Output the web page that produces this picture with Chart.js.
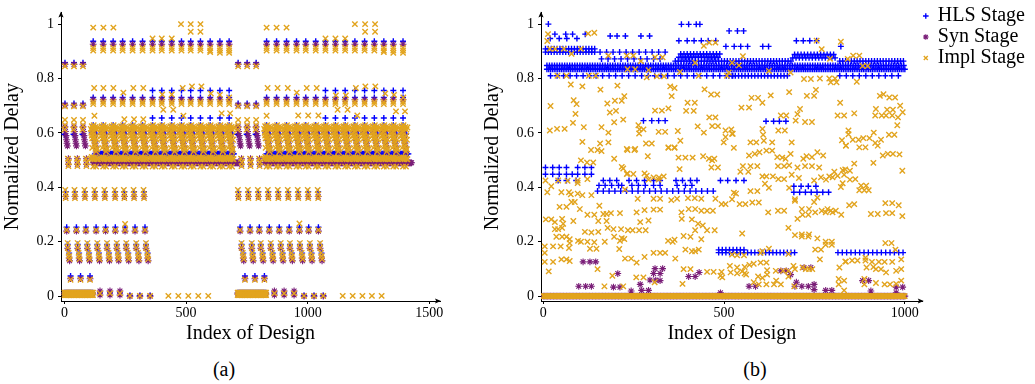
<!DOCTYPE html>
<html>
<head>
<meta charset="utf-8">
<script src="https://cdn.jsdelivr.net/npm/chart.js@4.4.0/dist/chart.umd.min.js"></script>
<style>
  body { margin: 0; background: #fff; }
  #wrap { position: relative; width: 1035px; height: 384px; }
  canvas { position: absolute; top: 0; }
  #ca { left: 0; }
  #cb { left: 480px; }
  .cap { position: absolute; top: 358px; line-height: 24px; font: 20px 'Liberation Serif', serif; color: #000; transform: translateX(-50%); }
</style>
</head>
<body>
<div id="wrap">
  <canvas id="ca" width="470" height="350"></canvas>
  <canvas id="cb" width="555" height="350"></canvas>
  <div class="cap" style="left:224px">(a)</div>
  <div class="cap" style="left:755px">(b)</div>
</div>
<script>
// Normalized delay per design index, three flow stages

const seriesNames = ['HLS Stage', 'Syn Stage', 'Impl Stage'];
const yTicks = [0, 0.2, 0.4, 0.6, 0.8, 1];
const aXTicks = [0, 500, 1000, 1500];
const bXTicks = [0, 500, 1000];

// ---- panel (a): designs come in columns, each column repeats a pattern [dx, delay]
const aColsEarly = [2, 39, 76, 714, 751, 788];
const aColsMain = [118, 159, 200, 239, 280, 321, 362, 400, 441, 481, 519, 559, 599, 639, 677,
  831, 872, 913, 954, 992, 1033, 1073, 1114, 1154, 1194, 1234, 1274, 1313, 1352, 1392];
const aColsLate = [362, 400, 441, 481, 519, 559, 599, 639, 677, 1073, 1114, 1154, 1194, 1234, 1274, 1313, 1352, 1392];
const aCols38 = [5, 43, 84, 125, 166, 208, 246, 286, 327, 715, 756, 797, 838, 879, 920, 961, 1002, 1043];
const aCols25 = [9, 49, 88, 130, 169, 209, 249, 290, 331, 722, 763, 801, 842, 883, 924, 966, 1004, 1044];
const aCols18 = [13, 54, 94, 135, 175, 215, 254, 295, 335, 728, 770, 807, 848, 889, 927, 968, 1009, 1051];
const aCols14 = [19, 60, 101, 142, 183, 221, 262, 304, 342, 735, 774, 815, 856, 897, 935, 977, 1016, 1057];
const aCols06 = [25, 66, 105, 742, 783, 822];
const aColsZeroPair = [146, 187, 228, 863, 903, 944];
const aColsZero = [269, 310, 352, 985, 1026, 1064];
const aColsImplOnly = [427, 468, 509, 550, 591, 1144, 1185, 1225, 1264, 1304];

const aHlsSets = [
  [aColsEarly, [[0, 0.858], [0, 0.708], [-2, 0.595], [4, 0.59]]],
  [aColsMain, [[0, 0.937], [0, 0.73], [0, 0.628], [-6, 0.6], [0, 0.6], [6, 0.6], [12, 0.595], [4, 0.572], [8, 0.562], [10, 0.55]]],
  [aColsLate, [[0, 0.756], [0, 0.655]]],
  [aCols38, [[0, 0.384]]],
  [aCols25, [[0, 0.253]]],
  [aCols18, [[0, 0.19]]],
  [aCols14, [[0, 0.158]]],
  [aCols06, [[0, 0.074]]],
  [aColsZeroPair, [[0, 0.012]]],
  [aColsZero, [[0, 0.002]]]
];
const aSynSets = [
  [aColsEarly, [[0, 0.852], [0, 0.702], [0, 0.622], [2, 0.605], [4, 0.59], [6, 0.575], [8, 0.562], [10, 0.552], [14, 0.505], [14, 0.485]]],
  [aColsMain, [[0, 0.926], [0, 0.722], [0, 0.62], [2, 0.605], [4, 0.59], [6, 0.575], [8, 0.56], [10, 0.545], [12, 0.53]]],
  [aCols38, [[0, 0.366]]],
  [aCols25, [[0, 0.239]]],
  [aCols18, [[0, 0.176]]],
  [aCols14, [[0, 0.14], [2, 0.13]]],
  [aCols06, [[0, 0.064]]],
  [aColsZeroPair, [[0, 0.019], [0, 0.004]]],
  [aColsZero, [[0, 0.0]]]
];
const aImplCloud = [
  [0, 0.912], [0, 0.903], [0, 0.714], [0, 0.706],
  [-10, 0.615], [-6, 0.625], [-2, 0.618], [2, 0.628], [6, 0.616], [10, 0.622], [14, 0.612], [18, 0.62],
  [-8, 0.6], [-6, 0.59], [-4, 0.58], [-2, 0.603], [0, 0.592], [2, 0.582], [4, 0.572], [6, 0.562],
  [8, 0.552], [10, 0.542], [12, 0.532], [14, 0.59], [16, 0.575], [-4, 0.545], [16, 0.54],
  [-10, 0.505], [-6, 0.512], [-2, 0.504], [2, 0.51], [6, 0.503], [10, 0.511], [14, 0.505], [18, 0.503],
  [0, 0.476], [12, 0.476]
];
const aImplSets = [
  [aColsEarly, [[0, 0.845], [0, 0.698], [0, 0.648], [0, 0.628], [-2, 0.612], [12, 0.505], [16, 0.492], [14, 0.478]]],
  [aColsMain, aImplCloud],
  [aCols38, [[0, 0.374], [0, 0.36], [-2, 0.39]]],
  [aCols25, [[0, 0.243]]],
  [aCols18, [[0, 0.195], [0, 0.178]]],
  [aCols14, [[-2, 0.159], [0, 0.147], [2, 0.136]]],
  [aCols06, [[0, 0.06]]],
  [aColsZeroPair, [[0, 0.01]]],
  [aColsZero, [[0, 0.001]]],
  [aColsImplOnly, [[0, 0.001]]]
];
// runs of consecutive designs at one delay: [from, to, every, delay]
const aHlsRuns = [[125, 700, 4, 0.523], [830, 1415, 4, 0.523], [0, 118, 4, 0.012], [712, 830, 4, 0.012]];
const aSynRuns = [[118, 715, 3, 0.49], [824, 1427, 3, 0.49], [0, 118, 4, 0.008], [712, 830, 4, 0.008]];
const aImplRuns = [[0, 118, 3, 0.013], [0, 118, 3, 0.004], [712, 830, 3, 0.013], [712, 830, 3, 0.004]];
const aImplPts = [
  [118, 0.987], [160, 0.987], [201, 0.987], [831, 0.987], [872, 0.987], [913, 0.987],
  [479, 1.0], [519, 1.0], [559, 1.0], [1194, 1.0], [1236, 1.0], [1277, 1.0],
  [519, 0.972], [559, 0.972], [1236, 0.972], [1277, 0.972],
  [362, 0.947], [400, 0.947], [441, 0.947], [1073, 0.947], [1114, 0.947], [1154, 0.947],
  [599, 0.897], [639, 0.894], [677, 0.894], [1313, 0.897], [1352, 0.894], [1392, 0.894],
  [122, 0.765], [160, 0.765], [201, 0.765], [283, 0.765], [324, 0.765], [486, 0.765], [524, 0.771], [563, 0.771],
  [835, 0.765], [876, 0.765], [918, 0.765], [996, 0.765], [1037, 0.765], [1198, 0.765], [1237, 0.771], [1278, 0.771],
  [242, 0.748], [955, 0.748], [402, 0.741], [441, 0.741], [1116, 0.738], [1157, 0.738],
  [602, 0.745], [639, 0.74], [677, 0.73], [1319, 0.745], [1355, 0.74], [1393, 0.73],
  [406, 0.685], [447, 0.685], [1123, 0.685], [1164, 0.685],
  [646, 0.672], [681, 0.672], [1363, 0.679], [1400, 0.679],
  [123, 0.663], [489, 0.663], [831, 0.663], [1204, 0.664],
  [246, 0.65], [286, 0.65], [324, 0.65], [961, 0.664], [1002, 0.664], [1044, 0.664],
  [249, 0.265], [966, 0.267]
];

// ---- panel (b)
const bHlsRuns = [
  [10, 1000, 5, 0.834], [10, 1000, 7, 0.848], [365, 690, 8, 0.864], [820, 1000, 8, 0.864],
  [20, 540, 18, 0.81], [513, 680, 9, 0.81], [820, 995, 18, 0.81],
  [6, 145, 8, 0.909], [6, 145, 8, 0.897], [157, 337, 18, 0.897], [161, 337, 18, 0.872],
  [375, 490, 9, 0.878], [380, 490, 9, 0.89], [690, 810, 9, 0.876], [695, 810, 9, 0.888],
  [150, 476, 16, 0.386], [693, 800, 16, 0.382],
  [485, 695, 10, 0.16], [815, 995, 12, 0.16], [485, 560, 10, 0.17]
];
const bHlsPts = [
  [14, 1.0], [382, 0.999], [402, 0.999], [423, 0.999], [433, 0.999],
  [32, 0.963], [62, 0.963], [81, 0.963], [116, 0.963], [19, 0.947], [44, 0.947], [65, 0.947], [93, 0.947],
  [185, 0.956], [204, 0.956], [227, 0.956], [270, 0.956], [294, 0.956],
  [375, 0.939], [398, 0.939], [417, 0.939], [437, 0.939], [456, 0.939], [477, 0.939],
  [514, 0.975], [537, 0.975], [554, 0.975],
  [505, 0.918], [528, 0.918], [546, 0.918], [565, 0.918], [607, 0.918], [623, 0.918],
  [700, 0.939], [719, 0.939], [737, 0.939], [756, 0.939], [823, 0.918],
  [277, 0.645], [300, 0.645], [319, 0.645], [337, 0.645], [616, 0.643], [637, 0.643], [653, 0.643], [671, 0.643],
  [6, 0.473], [26, 0.473], [44, 0.473], [64, 0.473], [95, 0.473], [115, 0.473], [133, 0.473],
  [6, 0.448], [26, 0.448], [44, 0.448], [64, 0.448], [80, 0.448], [95, 0.448], [115, 0.448], [133, 0.448],
  [41, 0.425], [64, 0.425], [91, 0.425],
  [166, 0.425], [184, 0.425], [203, 0.425], [237, 0.425], [258, 0.425], [280, 0.425], [305, 0.425], [323, 0.425],
  [367, 0.425], [385, 0.425], [407, 0.425], [425, 0.425], [490, 0.425], [510, 0.425], [533, 0.425], [555, 0.425],
  [154, 0.407], [171, 0.407], [189, 0.407], [208, 0.407], [217, 0.407], [245, 0.407], [263, 0.407],
  [282, 0.407], [305, 0.407], [323, 0.407], [370, 0.407], [393, 0.407], [411, 0.407],
  [693, 0.404], [713, 0.404], [733, 0.404], [754, 0.404]
];
const bSynRuns = [[0, 1000, 4, 0.0]];
const bSynPts = [
  [110, 0.126], [129, 0.126], [145, 0.126], [206, 0.083], [98, 0.036], [117, 0.036], [133, 0.036],
  [194, 0.033], [212, 0.033], [309, 0.101], [330, 0.101], [305, 0.083], [323, 0.083], [295, 0.059], [311, 0.059],
  [268, 0.043], [272, 0.021], [291, 0.021], [243, 0.019], [323, 0.057], [402, 0.072], [420, 0.072], [431, 0.087], [490, 0.012],
  [657, 0.093], [672, 0.093], [684, 0.079], [721, 0.105], [740, 0.105], [569, 0.036], [587, 0.036],
  [696, 0.036], [715, 0.036], [733, 0.036], [749, 0.043], [749, 0.024], [700, 0.051], [781, 0.021], [798, 0.021],
  [883, 0.057], [900, 0.057], [906, 0.019], [976, 0.033], [994, 0.033], [976, 0.012]
];
const bImplRuns = [[0, 1000, 3, 0.0]];
const bImplPts = [
  [13, 0.963], [11, 0.938], [124, 0.965], [141, 0.968], [18, 0.909], [33, 0.909], [57, 0.909], [78, 0.891],
  [104, 0.909], [180, 0.884], [231, 0.884], [249, 0.884], [270, 0.864], [309, 0.878], [330, 0.878], [39, 0.81],
  [64, 0.81], [126, 0.81], [145, 0.81], [233, 0.834], [254, 0.834], [286, 0.804], [314, 0.808], [334, 0.808],
  [291, 0.831], [444, 0.92], [459, 0.932], [476, 0.932], [420, 0.858], [378, 0.824], [430, 0.81], [508, 0.81],
  [513, 0.822], [76, 0.778], [108, 0.771], [158, 0.759], [205, 0.774], [351, 0.771], [363, 0.765], [446, 0.76],
  [464, 0.741], [481, 0.741], [355, 0.735], [224, 0.735], [217, 0.718], [198, 0.718], [20, 0.699], [84, 0.72],
  [92, 0.706], [177, 0.708], [184, 0.675], [201, 0.681], [309, 0.682], [328, 0.682], [346, 0.69], [399, 0.711],
  [419, 0.711], [395, 0.681], [416, 0.681], [89, 0.67], [459, 0.657], [476, 0.657], [221, 0.649], [196, 0.639],
  [82, 0.637], [161, 0.621], [263, 0.628], [266, 0.613], [277, 0.613], [18, 0.609], [38, 0.615], [59, 0.615],
  [112, 0.621], [427, 0.624], [467, 0.625], [483, 0.625], [504, 0.609], [520, 0.613], [180, 0.601], [265, 0.598],
  [319, 0.604], [337, 0.604], [372, 0.607], [444, 0.601], [108, 0.567], [157, 0.561], [180, 0.565], [284, 0.561],
  [300, 0.561], [379, 0.571], [499, 0.565], [504, 0.585], [522, 0.597], [346, 0.547], [363, 0.547], [231, 0.541],
  [254, 0.541],
  [756, 0.939], [823, 0.935], [770, 0.908], [857, 0.884], [874, 0.884], [552, 0.882], [793, 0.872], [842, 0.872],
  [522, 0.858], [541, 0.848], [624, 0.828], [684, 0.822], [883, 0.846], [897, 0.846], [721, 0.798], [740, 0.798],
  [765, 0.8], [791, 0.8], [807, 0.8], [795, 0.786], [811, 0.786], [867, 0.788], [754, 0.758], [680, 0.75],
  [629, 0.738], [576, 0.729], [594, 0.729], [729, 0.736], [749, 0.736], [931, 0.736], [941, 0.742], [957, 0.73],
  [973, 0.73], [606, 0.711], [821, 0.711], [987, 0.7], [548, 0.693], [569, 0.693], [710, 0.688], [920, 0.688],
  [951, 0.685], [967, 0.685], [994, 0.676], [657, 0.664], [672, 0.664], [703, 0.669], [814, 0.664], [832, 0.664],
  [860, 0.672], [918, 0.664], [936, 0.664], [948, 0.664], [965, 0.664], [981, 0.657], [698, 0.645], [724, 0.64],
  [743, 0.64], [979, 0.628], [606, 0.615], [650, 0.609], [668, 0.609], [844, 0.609], [844, 0.595], [524, 0.597],
  [608, 0.593], [914, 0.601], [956, 0.593], [971, 0.593], [573, 0.565], [589, 0.565], [610, 0.571], [633, 0.565],
  [687, 0.565], [826, 0.573], [856, 0.575], [872, 0.575], [885, 0.581], [902, 0.581], [918, 0.563], [934, 0.575],
  [837, 0.553], [874, 0.547], [891, 0.547],
  [132, 0.537], [150, 0.537], [161, 0.533], [233, 0.537], [252, 0.537], [346, 0.545], [363, 0.545], [289, 0.514],
  [196, 0.505], [104, 0.499], [121, 0.491], [138, 0.491], [374, 0.509], [393, 0.509], [413, 0.509], [442, 0.514],
  [458, 0.505], [473, 0.505], [467, 0.499], [465, 0.473], [483, 0.473], [217, 0.475], [221, 0.469], [377, 0.467],
  [233, 0.451], [231, 0.449], [249, 0.449], [280, 0.451], [286, 0.443], [305, 0.436], [320, 0.436], [333, 0.44],
  [291, 0.428], [319, 0.428], [6, 0.425], [41, 0.425], [67, 0.424], [95, 0.425], [95, 0.416], [122, 0.43],
  [22, 0.404], [11, 0.382], [50, 0.382], [71, 0.382], [76, 0.374], [95, 0.377], [108, 0.371], [133, 0.371],
  [226, 0.392], [261, 0.358], [305, 0.358], [323, 0.358], [354, 0.353], [370, 0.358], [400, 0.36], [419, 0.36],
  [437, 0.358], [476, 0.358], [78, 0.346], [87, 0.346], [155, 0.332], [493, 0.338], [504, 0.338], [45, 0.328],
  [64, 0.328], [101, 0.32], [122, 0.299], [141, 0.299], [166, 0.302], [175, 0.302], [187, 0.305], [212, 0.305],
  [258, 0.308], [280, 0.316], [305, 0.318], [323, 0.318], [382, 0.308], [402, 0.32], [420, 0.32], [437, 0.314],
  [453, 0.314], [469, 0.314], [7, 0.282], [22, 0.282], [32, 0.272], [52, 0.284], [55, 0.266], [83, 0.276],
  [152, 0.276], [175, 0.276], [268, 0.272], [291, 0.278], [383, 0.284], [411, 0.282], [428, 0.266], [441, 0.26],
  [32, 0.246], [41, 0.246], [52, 0.251], [133, 0.234], [152, 0.236], [178, 0.251], [194, 0.246], [215, 0.246],
  [234, 0.242], [247, 0.242], [265, 0.242], [283, 0.242], [420, 0.242], [453, 0.242], [474, 0.242], [115, 0.236],
  [36, 0.218], [52, 0.218], [64, 0.218], [196, 0.218], [217, 0.213], [224, 0.21], [363, 0.207], [345, 0.203],
  [358, 0.2], [388, 0.221], [407, 0.218], [437, 0.209], [73, 0.209], [73, 0.195], [96, 0.203], [104, 0.2],
  [122, 0.2], [141, 0.198], [170, 0.2], [212, 0.203], [4, 0.183], [27, 0.183], [48, 0.183], [71, 0.177],
  [129, 0.174], [147, 0.174], [210, 0.173], [393, 0.171], [411, 0.165], [420, 0.165], [430, 0.171], [365, 0.138],
  [4, 0.159], [4, 0.126], [27, 0.126], [50, 0.135], [64, 0.135], [73, 0.129], [226, 0.138], [243, 0.138],
  [258, 0.123], [280, 0.144], [305, 0.159], [323, 0.159], [337, 0.159], [388, 0.099], [407, 0.099], [15, 0.091],
  [150, 0.099], [191, 0.075], [453, 0.089], [471, 0.089], [493, 0.089], [490, 0.075], [495, 0.069], [257, 0.069],
  [277, 0.069], [385, 0.045], [169, 0.036], [221, 0.036], [308, 0.051],
  [527, 0.545], [569, 0.517], [585, 0.523], [598, 0.529], [617, 0.535], [633, 0.535], [647, 0.511], [661, 0.509],
  [670, 0.505], [684, 0.523], [719, 0.505], [728, 0.514], [743, 0.511], [758, 0.529], [774, 0.517], [837, 0.553],
  [925, 0.553], [939, 0.517], [953, 0.523], [967, 0.523], [985, 0.521], [552, 0.478], [573, 0.478], [592, 0.478],
  [649, 0.478], [666, 0.478], [680, 0.481], [703, 0.473], [724, 0.478], [743, 0.478], [763, 0.473], [860, 0.487],
  [913, 0.49], [545, 0.457], [567, 0.457], [805, 0.457], [828, 0.463], [835, 0.466], [848, 0.461], [993, 0.461],
  [606, 0.44], [617, 0.44], [635, 0.44], [650, 0.43], [666, 0.43], [687, 0.446], [707, 0.434], [749, 0.425],
  [768, 0.437], [782, 0.428], [791, 0.44], [800, 0.437], [814, 0.442], [832, 0.446], [527, 0.38], [533, 0.377],
  [573, 0.386], [592, 0.386], [613, 0.413], [624, 0.398], [680, 0.398], [828, 0.415], [823, 0.401], [863, 0.43],
  [848, 0.428], [879, 0.406], [893, 0.406], [874, 0.389], [888, 0.389], [900, 0.389], [522, 0.356], [696, 0.356],
  [696, 0.35], [758, 0.362], [749, 0.346], [543, 0.338], [559, 0.338], [578, 0.344], [596, 0.344], [846, 0.334],
  [860, 0.338], [946, 0.342], [965, 0.342], [983, 0.334], [622, 0.308], [649, 0.314], [666, 0.314], [715, 0.32],
  [735, 0.32], [703, 0.284], [717, 0.299], [733, 0.299], [752, 0.308], [770, 0.314], [786, 0.32], [795, 0.314],
  [809, 0.314], [781, 0.308], [800, 0.308], [824, 0.299], [906, 0.302], [925, 0.302], [948, 0.305], [965, 0.305],
  [993, 0.294], [678, 0.251], [550, 0.23], [696, 0.224], [715, 0.219], [733, 0.219], [715, 0.227], [735, 0.227],
  [758, 0.212], [781, 0.2], [798, 0.2], [781, 0.189], [798, 0.189], [946, 0.195], [963, 0.195], [752, 0.171],
  [768, 0.171], [974, 0.171], [624, 0.174], [678, 0.155], [522, 0.153], [536, 0.15], [555, 0.15], [606, 0.165],
  [601, 0.159], [765, 0.135], [837, 0.127], [854, 0.131], [869, 0.131], [891, 0.141], [891, 0.131], [909, 0.126],
  [928, 0.126], [944, 0.126], [965, 0.126], [990, 0.135], [516, 0.111], [536, 0.105], [557, 0.107], [570, 0.115],
  [582, 0.119], [601, 0.123], [617, 0.123], [518, 0.087], [536, 0.084], [550, 0.091], [557, 0.084], [561, 0.079],
  [619, 0.095], [619, 0.079], [643, 0.093], [663, 0.093], [678, 0.093], [692, 0.111], [696, 0.099], [717, 0.105],
  [726, 0.099], [735, 0.099], [744, 0.099], [819, 0.105], [835, 0.127], [894, 0.105], [913, 0.107], [920, 0.099],
  [934, 0.099], [948, 0.087], [976, 0.093], [990, 0.099], [594, 0.072], [606, 0.067], [644, 0.057], [678, 0.072],
  [817, 0.063], [832, 0.057], [817, 0.043], [888, 0.063], [888, 0.043], [920, 0.048], [944, 0.043], [959, 0.043],
  [976, 0.045], [582, 0.051], [596, 0.043], [617, 0.043], [638, 0.043], [657, 0.043], [694, 0.036], [832, 0.021],
  [990, 0.057]
];

// ---- helpers that turn the arrays into {x, y} points
function fromSets(sets) {
  const out = [];
  sets.forEach(([cols, pattern]) => cols.forEach(c => pattern.forEach(p => out.push({ x: c + p[0], y: p[1] }))));
  return out;
}
function fromRuns(runs) {
  const out = [];
  runs.forEach(([from, to, every, y]) => { for (let x = from; x <= to; x += every) out.push({ x, y }); });
  return out;
}
function fromPts(pts) {
  return pts.map(p => ({ x: p[0], y: p[1] }));
}

const fontFam = "'Liberation Serif', serif";
Chart.defaults.font.family = fontFam;
const colors = ['#0000ff', '#7a1e78', 'rgb(226,164,30)'];
const styles = [
  { pointStyle: 'cross', pointRadius: 3, pointBorderWidth: 1.4, order: 3 },
  { pointStyle: 'star', pointRadius: 3.4, pointBorderWidth: 1.1, order: 2 },
  { pointStyle: 'crossRot', pointRadius: 3.8, pointBorderWidth: 1.4, order: 1 }
];

function makeDatasets(seriesData) {
  return seriesData.map((data, i) => Object.assign({
    label: seriesNames[i],
    data: data,
    showLine: false,
    borderColor: colors[i],
    backgroundColor: colors[i],
    pointBorderColor: colors[i],
    pointBackgroundColor: colors[i]
  }, styles[i]));
}

// arrow heads at the ends of the axis lines
const axisArrows = {
  id: 'axisArrows',
  afterDraw(chart) {
    const { ctx, chartArea: a } = chart;
    ctx.save();
    ctx.fillStyle = '#000';
    ctx.beginPath();
    ctx.moveTo(a.left, a.top - 1);
    ctx.lineTo(a.left - 2.6, a.top + 5);
    ctx.lineTo(a.left, a.top + 3.8);
    ctx.lineTo(a.left + 2.6, a.top + 5);
    ctx.closePath();
    ctx.fill();
    ctx.beginPath();
    ctx.moveTo(a.right + 1, a.bottom);
    ctx.lineTo(a.right - 5, a.bottom - 2.6);
    ctx.lineTo(a.right - 3.8, a.bottom);
    ctx.lineTo(a.right - 5, a.bottom + 2.6);
    ctx.closePath();
    ctx.fill();
    ctx.restore();
  }
};

function makeChart(id, datasets, xMin, xMax, xTicks, yWidth, showLegend, padRight) {
  const tickFont = { family: fontFam, size: 14 };
  const titleFont = { family: fontFam, size: 20 };
  return new Chart(document.getElementById(id).getContext('2d'), {
    type: 'scatter',
    data: { datasets },
    plugins: [axisArrows],
    options: {
      responsive: false,
      animation: false,
      events: [],
      layout: { padding: { top: 5, right: padRight, left: 0, bottom: 0 } },
      plugins: {
        tooltip: { enabled: false },
        legend: showLegend ? {
          display: true,
          position: 'right',
          align: 'start',
          labels: {
            usePointStyle: true, boxWidth: 4, boxHeight: 4, padding: 1,
            color: '#000', font: titleFont,
            sort: (a, b) => a.datasetIndex - b.datasetIndex
          }
        } : { display: false }
      },
      scales: {
        x: {
          type: 'linear', min: xMin, max: xMax,
          afterBuildTicks: s => { s.ticks = xTicks.map(v => ({ value: v })); },
          afterFit: s => { s.height = 49; },
          ticks: { color: '#000', font: tickFont, padding: 1, maxRotation: 0, callback: v => String(v) },
          grid: { display: true, drawOnChartArea: false, drawTicks: true, tickLength: 3, color: '#000' },
          border: { display: true, color: '#000', width: 1 },
          title: { display: true, text: 'Index of Design', color: '#000', font: titleFont, padding: { top: 0, bottom: 4 } }
        },
        y: {
          type: 'linear', min: -0.018, max: 1.043,
          afterBuildTicks: s => { s.ticks = yTicks.map(v => ({ value: v })); },
          afterFit: s => { s.width = yWidth; },
          ticks: { color: '#000', font: tickFont, padding: 4, callback: v => String(v) },
          grid: { display: true, drawOnChartArea: false, drawTicks: true, tickLength: 3, color: '#000' },
          border: { display: true, color: '#000', width: 1 },
          title: { display: true, text: 'Normalized Delay', color: '#000', font: titleFont, padding: { top: 1, bottom: 0 } }
        }
      }
    }
  });
}

makeChart('ca', makeDatasets([
  fromSets(aHlsSets).concat(fromRuns(aHlsRuns)),
  fromSets(aSynSets).concat(fromRuns(aSynRuns)),
  fromSets(aImplSets).concat(fromRuns(aImplRuns), fromPts(aImplPts))
]), -14.4, 1544, aXTicks, 61, false, 30);

makeChart('cb', makeDatasets([
  fromRuns(bHlsRuns).concat(fromPts(bHlsPts)),
  fromRuns(bSynRuns).concat(fromPts(bSynPts)),
  fromRuns(bImplRuns).concat(fromPts(bImplPts))
]), -6.4, 1049.6, bXTicks, 61, true, 0);
</script>
</body>
</html>
